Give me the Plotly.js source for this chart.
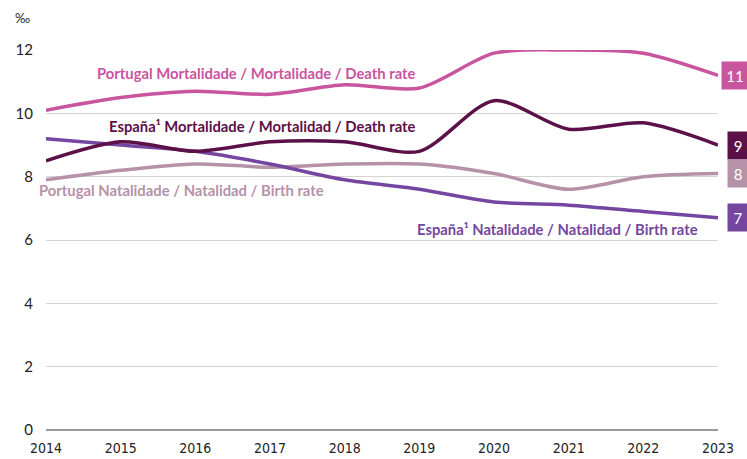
<!DOCTYPE html>
<html><head><meta charset="utf-8">
<script src="https://cdn.plot.ly/plotly-3.0.1.min.js"></script>
<style>html,body{margin:0;padding:0;background:#fff}#chart{width:747px;height:459px}</style>
</head><body><div id="chart"></div>
<script>
const years = [2014,2015,2016,2017,2018,2019,2020,2021,2022,2023];
const ptDeath = [10.1,10.5,10.7,10.6,10.9,10.8,11.9,12.0,11.9,11.2];
const esDeath = [8.5,9.1,8.8,9.1,9.1,8.8,10.4,9.5,9.7,9.0];
const ptBirth = [7.9,8.2,8.4,8.3,8.4,8.4,8.1,7.6,8.0,8.1];
const esBirth = [9.2,9.0,8.8,8.4,7.9,7.6,7.2,7.1,6.9,6.7];
const seriesNames = [
  "Portugal Mortalidade / Mortalidade / Death rate",
  "España¹ Mortalidade / Mortalidad / Death rate",
  "Portugal Natalidade / Natalidad / Birth rate",
  "España¹ Natalidade / Natalidad / Birth rate"
];
const endLabels = ["11","9","8","7"];
const yTicks = [0,2,4,6,8,10,12];

const colors = ["#c9559f","#5c1048","#b592a8","#7446a0"];
const data = [ptDeath, esDeath, ptBirth, esBirth];
const order = [2,3,1,0];
const traces = order.map(i => ({
  x: years, y: data[i], type: "scatter", mode: "lines",
  line: {color: colors[i], width: 3.5, shape: "spline", smoothing: 0.8},
  hoverinfo: "none", showlegend: false
}));

const font = "Lato, 'Open Sans', sans-serif";
const labelPos = [
  {xref: "x", x: 2014.66, y: 11.27},
  {xref: "x", x: 2014.82, y: 9.6},
  {xref: "paper", x: -0.0134, y: 7.58},
  {xref: "x", x: 2018.94, y: 6.35}
];
const annotations = [];
seriesNames.forEach((n,i) => {
  annotations.push({x: labelPos[i].x, y: labelPos[i].y, xref: labelPos[i].xref, yref: "y",
    text: "<b>"+n+"</b>", showarrow: false, xanchor: "left", yanchor: "middle",
    font: {family: font, size: 14.8, color: colors[i]}});
});
endLabels.forEach((t,i) => {
  const last = data[i][data[i].length-1];
  annotations.push({x: 2023, y: last, xref: "x", yref: "y", text: t, showarrow: false,
    xanchor: "left", yanchor: "middle", xshift: i===0 ? 3 : 9,
    bgcolor: colors[i], font: {family: font, size: 15, color: "#ffffff"},
    width: i===0 ? 22 : 16, height: 23, borderpad: 2});
});
annotations.push({xref: "paper", yref: "paper", x: -0.035, y: 1.085, xanchor: "center", yanchor: "middle",
  text: "‰", showarrow: false, font: {family: font, size: 13, color: "#222"}});

const layout = {
  width: 747, height: 459,
  margin: {l: 46, r: 29, t: 50, b: 29},
  paper_bgcolor: "#fff", plot_bgcolor: "#fff",
  xaxis: {range: [2014, 2023], tickvals: years, ticktext: years.map(String), showgrid: false,
    zeroline: false, showline: false, ticks: "", ticklabelstandoff: 8,
    tickfont: {family: "'Liberation Sans Narrow', 'DejaVu Sans Condensed', sans-serif", size: 14, color: "#222"}},
  yaxis: {range: [0, 12], tickvals: yTicks, showgrid: true, gridcolor: "#d4d4d4", gridwidth: 1,
    zeroline: true, zerolinecolor: "#999", zerolinewidth: 1.5, showline: false, ticks: "",
    ticklabelstandoff: 12,
    tickfont: {family: font, size: 15, color: "#222"}},
  annotations: annotations
};
Plotly.newPlot("chart", traces, layout, {staticPlot: true, displayModeBar: false});
</script></body></html>
